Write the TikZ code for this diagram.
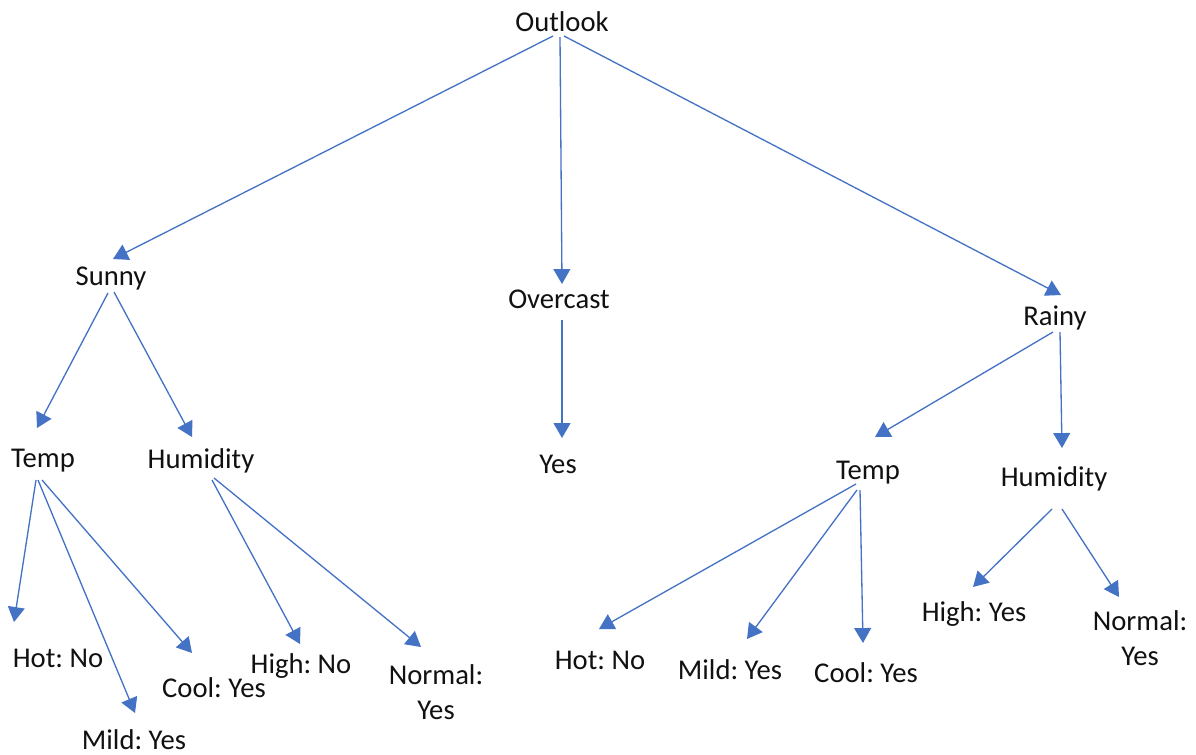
\documentclass[tikz,border=0pt]{standalone}
\usepackage{fontspec}
\setmainfont{Carlito}
\usepackage{xcolor}
\usepackage{tikz}
\usetikzlibrary{arrows.meta,calc}
\definecolor{DTBlue} {HTML}{4472C4}
\definecolor{DTText} {HTML}{111111}
\definecolor{DTWhite}{HTML}{FFFFFF}
\frenchspacing

\tikzset{
  lbl/.style={font=\fontsize{16.3pt}{19.9pt}\selectfont,text=DTText,inner sep=0pt,anchor=base},
  lbltwo/.style={lbl,anchor=center,align=center},
  link/.style={draw=DTBlue,line width=0.75pt,-{Triangle[length=8.5pt,width=9.6pt]}}
}

\begin{document}
\begin{tikzpicture}[x=0.02cm,y=-0.02cm]
    \fill[DTWhite](0,0) rectangle (1196,754);
    \useasboundingbox (0,0) rectangle (1196,754);

    % root and first level
    \node[lbl] (outlook)  at (562,31)  {Outlook};
    \node[lbl] (sunny)    at (111,285) {Sunny};
    \node[lbl] (overcast) at (559,308) {Overcast};
    \node[lbl] (rainy)    at (1055,325) {Rainy};

    % second level
    \node[lbl] (templ)  at (43,467)   {Temp};
    \node[lbl] (humidl) at (201,468)  {Humidity};
    \node[lbl] (yesm)   at (558,473)  {Yes};
    \node[lbl] (tempr)  at (868,479)  {Temp};
    \node[lbl] (humidr) at (1054,486) {Humidity};

    % leaves
    \node[lbl] (hotl)  at (58,667)  {Hot: No};
    \node[lbl] (mildl) at (134,749) {Mild: Yes};
    \node[lbl] (cooll) at (214,697) {Cool: Yes};
    \node[lbl] (highl) at (301,673) {High: No};
    \node[lbltwo] (normall) at (436,692) {Normal:\\Yes};
    \node[lbl] (hotr)  at (600,669) {Hot: No};
    \node[lbl] (mildr) at (730,679) {Mild: Yes};
    \node[lbl] (coolr) at (866,682) {Cool: Yes};
    \node[lbl] (highr) at (974,621) {High: Yes};
    \node[lbltwo] (normalr) at (1140,638) {Normal:\\Yes};

    % connectors
    \draw[link] ($(outlook.base)+(-9,5)$) -- ($(sunny.base)+(2,-26)$);
    \draw[link] ($(outlook.base)+(-2,6)$) -- ($(overcast.base)+(3,-24)$);
    \draw[link] ($(outlook.base)+(2,5)$)  -- ($(rainy.base)+(6,-30)$);

    \draw[link] ($(sunny.base)+(-3,8)$) -- ($(templ.base)+(-6,-39)$);
    \draw[link] ($(sunny.base)+(3,7)$)  -- ($(humidl.base)+(-9,-31)$);
    \draw[link] ($(overcast.base)+(3,12)$) -- ($(yesm.base)+(4,-35)$);
    \draw[link] ($(rainy.base)+(-2,7)$) -- ($(tempr.base)+(7,-42)$);
    \draw[link] ($(rainy.base)+(5,7)$)  -- ($(humidr.base)+(8,-38)$);

    \draw[link] ($(templ.base)+(-7,13)$) -- ($(hotl.base)+(-44,-45)$);
    \draw[link] ($(templ.base)+(-5,13)$) -- ($(mildl.base)+(1,-36)$);
    \draw[link] ($(templ.base)+(-1,13)$) -- ($(cooll.base)+(-22,-44)$);
    \draw[link] ($(humidl.base)+(11,12)$) -- ($(highl.base)+(-1,-29)$);
    \draw[link] ($(humidl.base)+(13,10)$) -- ($(normall)+(-15,-45)$);

    \draw[link] ($(tempr.base)+(-12,5)$) -- ($(hotr.base)+(-1,-40)$);
    \draw[link] ($(tempr.base)+(-11,11)$) -- ($(mildr.base)+(17,-40)$);
    \draw[link] ($(tempr.base)+(-8,11)$) -- ($(coolr.base)+(-3,-39)$);
    \draw[link] ($(humidr.base)+(-2,23)$) -- ($(highr.base)+(-1,-34)$);
    \draw[link] ($(humidr.base)+(8,23)$) -- ($(normalr)+(-21,-41)$);
  \end{tikzpicture}
\end{document}
